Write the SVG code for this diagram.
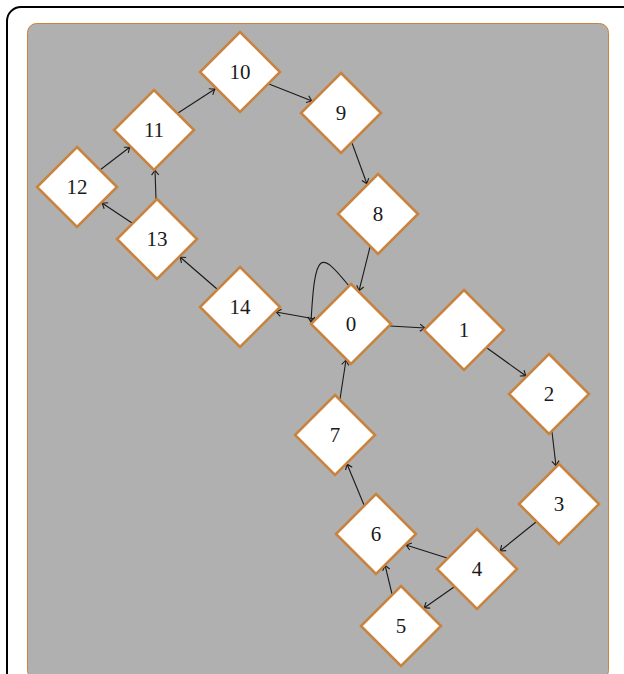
<svg xmlns="http://www.w3.org/2000/svg" width="624" height="674" viewBox="0 0 624 674">
<defs>
<style>
.nd{fill:#ffffff;stroke:#c8843f;stroke-width:2.6;stroke-linejoin:miter}
.lb{font-family:"Liberation Serif","DejaVu Serif",serif;font-size:21px;fill:#1a1a1a;text-anchor:middle;dominant-baseline:central}
.ed{fill:none;stroke:#1a1a1a;stroke-width:1.1;marker-end:url(#ah)}
</style>
<marker id="ah" markerUnits="userSpaceOnUse" markerWidth="12" markerHeight="12" viewBox="-6 -6 12 12" refX="0" refY="0" orient="auto">
<path d="M -5 -3.6 Q -1.5 -0.8 0 0 Q -1.5 0.8 -5 3.6" fill="none" stroke="#1a1a1a" stroke-width="1.1"/>
</marker>
<path id="dm" d="M 0 -40 L 40 0 L 0 40 L -40 0 Z"/>
</defs>
<rect x="7" y="7" width="640" height="700" rx="14" fill="#ffffff" stroke="#000000" stroke-width="2"/>
<rect x="27.5" y="23.5" width="581" height="656" rx="9" fill="#b0b0b0" stroke="#c8843f" stroke-width="1"/>
<g id="connectors">
<line class="ed" x1="390" y1="326" x2="425" y2="328"/>
<line class="ed" x1="487" y1="348" x2="526" y2="376"/>
<line class="ed" x1="552" y1="432" x2="556" y2="466"/>
<line class="ed" x1="536" y1="522" x2="500" y2="551"/>
<line class="ed" x1="454" y1="587" x2="424" y2="608"/>
<line class="ed" x1="392" y1="594" x2="385" y2="565"/>
<line class="ed" x1="447" y1="558" x2="406" y2="545"/>
<line class="ed" x1="364" y1="505" x2="347" y2="464"/>
<line class="ed" x1="340" y1="399" x2="346" y2="360"/>
<line class="ed" x1="315" y1="319" x2="276" y2="312"/>
<line class="ed" x1="217" y1="289" x2="180" y2="257"/>
<line class="ed" x1="132" y1="223" x2="102" y2="203"/>
<line class="ed" x1="156" y1="199" x2="155" y2="170"/>
<line class="ed" x1="100" y1="170" x2="130" y2="147"/>
<line class="ed" x1="178" y1="113" x2="215" y2="89"/>
<line class="ed" x1="269" y1="84" x2="312" y2="101"/>
<line class="ed" x1="352" y1="143" x2="367" y2="184"/>
<line class="ed" x1="370" y1="247" x2="359" y2="291"/>
<path class="ed" d="M 349 286 C 320 250, 315 250, 311 322"/>
</g>
<g id="n0"><use href="#dm" class="nd" x="351" y="324"/><text class="lb" x="351" y="324">0</text></g>
<g id="n1"><use href="#dm" class="nd" x="464" y="330"/><text class="lb" x="464" y="330">1</text></g>
<g id="n2"><use href="#dm" class="nd" x="549" y="394"/><text class="lb" x="549" y="394">2</text></g>
<g id="n3"><use href="#dm" class="nd" x="559" y="504"/><text class="lb" x="559" y="504">3</text></g>
<g id="n4"><use href="#dm" class="nd" x="477" y="569"/><text class="lb" x="477" y="569">4</text></g>
<g id="n5"><use href="#dm" class="nd" x="401" y="626"/><text class="lb" x="401" y="626">5</text></g>
<g id="n6"><use href="#dm" class="nd" x="376" y="534"/><text class="lb" x="376" y="534">6</text></g>
<g id="n7"><use href="#dm" class="nd" x="335" y="435"/><text class="lb" x="335" y="435">7</text></g>
<g id="n8"><use href="#dm" class="nd" x="378" y="214"/><text class="lb" x="378" y="214">8</text></g>
<g id="n9"><use href="#dm" class="nd" x="341" y="113"/><text class="lb" x="341" y="113">9</text></g>
<g id="n10"><use href="#dm" class="nd" x="240" y="72"/><text class="lb" x="240" y="72">10</text></g>
<g id="n11"><use href="#dm" class="nd" x="154" y="130"/><text class="lb" x="154" y="130">11</text></g>
<g id="n12"><use href="#dm" class="nd" x="77" y="187"/><text class="lb" x="77" y="187">12</text></g>
<g id="n13"><use href="#dm" class="nd" x="157" y="239"/><text class="lb" x="157" y="239">13</text></g>
<g id="n14"><use href="#dm" class="nd" x="240" y="307"/><text class="lb" x="240" y="307">14</text></g>
</svg>
